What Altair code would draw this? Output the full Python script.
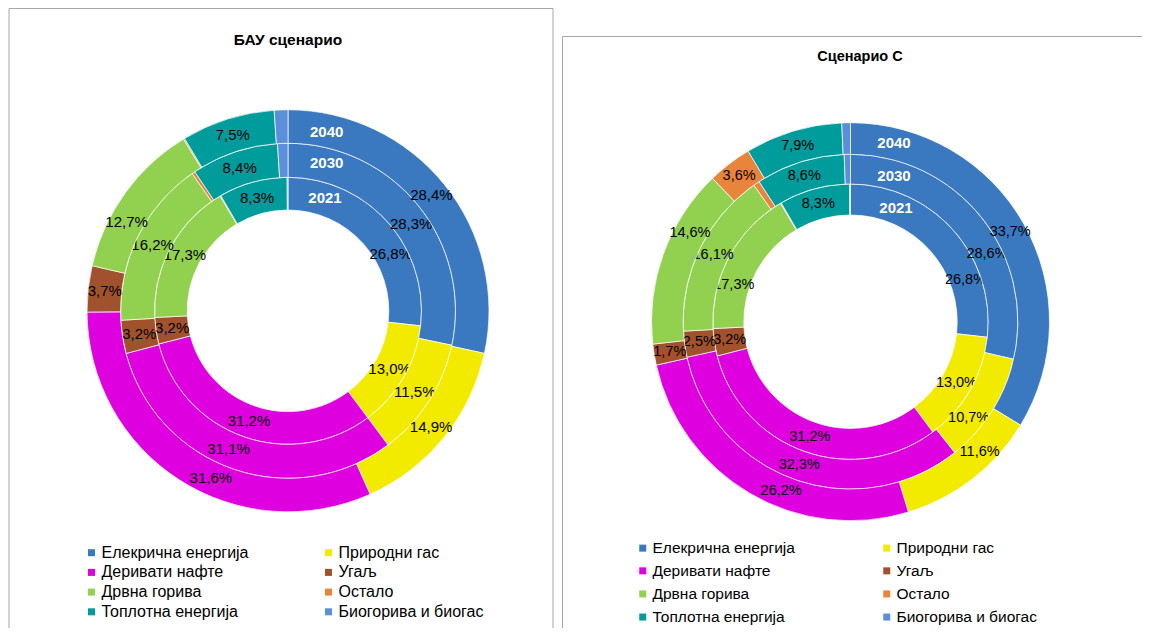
import altair as alt
import pandas as pd

# ---------------- data ----------------
categories = [
    "Елекрична енергија",
    "Природни гас",
    "Деривати нафте",
    "Угаљ",
    "Дрвна горива",
    "Остало",
    "Топлотна енергија",
    "Биогорива и биогас",
]
colors = ["#3A78C0", "#F2EB00", "#DE00DE", "#A0522D", "#92D050", "#E8853A", "#009B9B", "#5B8FD9"]
years = ["2021", "2030", "2040"]

bau_2021 = [26.8, 13.0, 31.2, 3.2, 17.3, 0.1, 8.3, 0.1]
bau_2030 = [28.3, 11.5, 31.1, 3.2, 16.2, 0.3, 8.4, 1.0]
bau_2040 = [28.4, 14.9, 31.6, 3.7, 12.7, 0.1, 7.5, 1.1]

c_2021 = [26.8, 13.0, 31.2, 3.2, 17.3, 0.1, 8.3, 0.1]
c_2030 = [28.6, 10.7, 32.3, 2.5, 16.1, 0.6, 8.6, 0.6]
c_2040 = [33.7, 11.6, 26.2, 1.7, 14.6, 3.6, 7.9, 0.7]

titles = ["БАУ сценарио", "Сценарио С"]

FONT = "Liberation Sans"

# legend reads row by row in the reference: two columns of four
legend_order = [categories[i] for i in (0, 2, 4, 6, 1, 3, 5, 7)]
legend_colors = [colors[categories.index(c)] for c in legend_order]

# label placement tweaks (degrees along the ring), as the labels were laid out in the original
label_nudge = {
    ("BAU", "2021", 0): 13, ("BAU", "2030", 0): 4,
    ("BAU", "2040", 4): -7, ("BAU", "2040", 2): -8, ("BAU", "2030", 2): 4,
    ("C", "2021", 0): 22, ("C", "2030", 0): 12,
    ("C", "2040", 1): -7, ("C", "2030", 1): 7, ("C", "2040", 2): -8,
    ("C", "2040", 4): 9, ("C", "2021", 4): -11,
}


def fmt(v):
    return f"{v:.1f}%".replace(".", ",") if v >= 1.5 else ""


rows = []
for sc, series in [("BAU", [bau_2021, bau_2030, bau_2040]), ("C", [c_2021, c_2030, c_2040])]:
    for yr, vals in zip(years, series):
        for i, (cat, v) in enumerate(zip(categories, vals)):
            rows.append(dict(sc=sc, year=yr, cat=cat, idx=i, value=v, label=fmt(v),
                             nudge=label_nudge.get((sc, yr, i), 0)))
df = pd.DataFrame(rows)

# ---------------- layout (view pixels) ----------------
layout = {
    "BAU": dict(cx=280.0, cy=302.8, radii=[100.8, 133.5, 167.5, 201.0], fs=15, lfs=16,
                title=(280.0, 32.0, 15.5), legend=(75.5, 536.7, 3.7, 71),
                yearpos=[(317.0, 190.0), (318.7, 155.0), (318.7, 123.7)]),
    "C": dict(cx=842.5, cy=313.7, radii=[106.7, 137.7, 167.4, 199.0], fs=14.5, lfs=15.5,
              title=(852.0, 48.7, 14.5), legend=(627.0, 532.0, 6.1, 84),
              yearpos=[(888.0, 200.0), (886.0, 168.0), (886.0, 135.3)]),
}

dummy = pd.DataFrame({"d": [0]})
theta_scale = alt.Scale(domain=[0, 1])


def group(sc, title):
    L = layout[sc]
    lx, ly, rp, cp = L["legend"]
    legend = alt.Legend(
        orient="none", legendX=lx, legendY=ly, columns=2, symbolType="square",
        symbolSize=49, symbolStrokeWidth=0, symbolOpacity=1,
        labelFont=FONT, labelFontSize=L["lfs"], labelColor="black", labelLimit=400,
        labelOffset=2, rowPadding=rp, columnPadding=cp,
    )
    color = alt.Color("cat:N", scale=alt.Scale(domain=legend_order, range=legend_colors),
                      legend=legend, title=None)
    layers = []
    for k, yr in enumerate(years):
        sub = df[(df.sc == sc) & (df.year == yr)]
        r_in, r_out = L["radii"][k], L["radii"][k + 1]
        layers.append(
            alt.Chart(sub).mark_arc(stroke="white", strokeWidth=0.7).encode(
                theta=alt.Theta("value:Q", stack="normalize", scale=theta_scale),
                order=alt.Order("idx:Q"),
                color=color,
                x=alt.value(L["cx"]),
                y=alt.value(L["cy"]),
                radius=alt.value(r_out),
                radius2=alt.value(r_in),
            )
        )
        layers.append(
            alt.Chart(sub)
            .transform_joinaggregate(total="sum(value)")
            .transform_window(cum="sum(value)", sort=[alt.SortField("idx")], frame=[None, 0])
            .transform_calculate(mid="(datum.cum - datum.value / 2) / datum.total + datum.nudge / 360")
            .mark_text(font=FONT, fontSize=L["fs"], color="black", radius=(r_in + r_out) / 2)
            .encode(
                theta=alt.Theta("mid:Q", scale=theta_scale),
                text="label:N",
                x=alt.value(L["cx"]),
                y=alt.value(L["cy"]),
            )
        )
    for k, yr in enumerate(years):
        px, py = L["yearpos"][k]
        layers.append(
            alt.Chart(pd.DataFrame({"year": [yr]})).mark_text(
                font=FONT, fontSize=15, fontWeight="bold", color="white"
            ).encode(text="year:N", x=alt.value(px), y=alt.value(py))
        )
    tx, ty, tfs = L["title"]
    layers.append(
        alt.Chart(pd.DataFrame({"t": [title]})).mark_text(
            font=FONT, fontSize=tfs, fontWeight="bold", color="black"
        ).encode(text="t:N", x=alt.value(tx), y=alt.value(ty))
    )
    return alt.layer(*layers)


borders = [
    alt.Chart(dummy).mark_rect(fillOpacity=0, stroke="#A6A6A6", strokeWidth=1).encode(
        x=alt.value(1.0), x2=alt.value(545.0), y=alt.value(0.5), y2=alt.value(700)
    ),
    alt.Chart(dummy).mark_rect(fillOpacity=0, stroke="#A6A6A6", strokeWidth=1).encode(
        x=alt.value(554.5), x2=alt.value(1200), y=alt.value(28.5), y2=alt.value(700)
    ),
]

chart = (
    alt.layer(*borders, group("BAU", titles[0]), group("C", titles[1]))
    .resolve_scale(color="independent")
    .properties(width=1134, height=620, padding=0, autosize="none")
    .configure_view(strokeWidth=0)
)

chart.save("out.html", embed_options={"renderer": "svg", "actions": False})
